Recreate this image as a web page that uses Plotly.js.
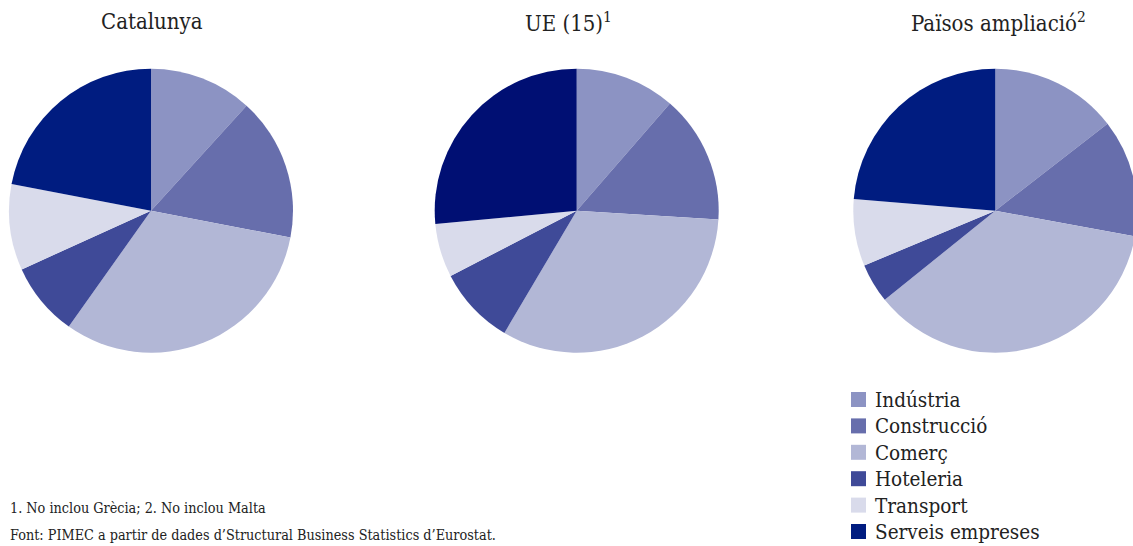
<!DOCTYPE html>
<html>
<head>
<meta charset="utf-8">
<script src="https://cdn.plot.ly/plotly-3.0.1.min.js"></script>
<style>
html,body{margin:0;padding:0;overflow:hidden;background:#fff;width:1133px;height:546px;}
#chart{width:1140px;height:546px;}
</style>
</head>
<body>
<div id="chart"></div>
<script>
// Data
const categories = ["Indústria", "Construcció", "Comerç", "Hoteleria", "Transport", "Serveis empreses"];
const catalunya = [11.75, 16.3, 31.8, 8.4, 9.8, 22.0];
const ue15 = [11.4, 14.6, 32.5, 8.9, 6.1, 26.5];
const ampliacio = [14.5, 13.4, 36.3, 4.5, 7.6, 23.7];
const titles = ["Catalunya", "UE (15)<sup>1</sup>", "Països ampliació<sup>2</sup>"];
const notes = ["1. No inclou Grècia; 2. No inclou Malta",
               "Font: PIMEC a partir de dades d’Structural Business Statistics d’Eurostat."];

const W = 1140, H = 546;
const FONT = '"DejaVu Serif Condensed", "DejaVu Serif", "Liberation Serif", serif';
const baseColors = ["#8c93c3", "#676eac", "#b2b7d6", "#3f4a98", "#d9dbeb", "#001c80"];
const ueColors = ["#8c93c3", "#676eac", "#b2b7d6", "#3f4a98", "#d9dbeb", "#000f73"];

function px(x) { return x / W; }
function py(y) { return 1 - y / H; }
function dom(cx, cy, r) {
  return {x: [px(cx - r), px(cx + r)], y: [py(cy + r), py(cy - r)]};
}

function pie(vals, d, colors) {
  return {
    type: 'pie', labels: categories, values: vals, sort: false,
    direction: 'clockwise', rotation: 0, textinfo: 'none', hoverinfo: 'label+percent',
    marker: {colors: colors, line: {width: 0}}, domain: d, showlegend: false
  };
}

const data = [
  pie(catalunya, dom(151, 210.7, 142), baseColors),
  pie(ue15, dom(576.7, 210.7, 142), ueColors),
  pie(ampliacio, dom(995.3, 210.7, 142), baseColors)
];

const titleX = [152, 568, 999];
const annotations = titles.map((t, i) => ({
  text: t, x: px(titleX[i]), y: py(22), xref: 'paper', yref: 'paper',
  xanchor: 'center', yanchor: 'middle', showarrow: false,
  font: {family: FONT, size: 22, color: '#222222'}
}));
notes.forEach((t, i) => annotations.push({
  text: t, x: px(8), y: py(508 + 27 * i),
  xref: 'paper', yref: 'paper', xanchor: 'left', yanchor: 'middle', showarrow: false,
  font: {family: FONT, size: 14.3, color: '#222222'}
}));

// Legend (drawn with shapes + text)
const shapes = [];
categories.forEach((c, i) => {
  const cy = 399.5 + 26.4 * i;
  shapes.push({
    type: 'rect', xref: 'paper', yref: 'paper',
    x0: px(851), x1: px(866), y0: py(cy + 7.5), y1: py(cy - 7.5),
    fillcolor: baseColors[i], line: {width: 0}
  });
  annotations.push({
    text: c, x: px(873), y: py(cy + 0.5), xref: 'paper', yref: 'paper',
    xanchor: 'left', yanchor: 'middle', showarrow: false,
    font: {family: FONT, size: 20.5, color: '#222222'}
  });
});

const layout = {
  width: W, height: H,
  margin: {l: 0, r: 0, t: 0, b: 0, pad: 0, autoexpand: false},
  paper_bgcolor: '#ffffff',
  showlegend: false,
  annotations: annotations,
  shapes: shapes
};

Plotly.newPlot('chart', data, layout, {displayModeBar: false});
</script>
</body>
</html>
